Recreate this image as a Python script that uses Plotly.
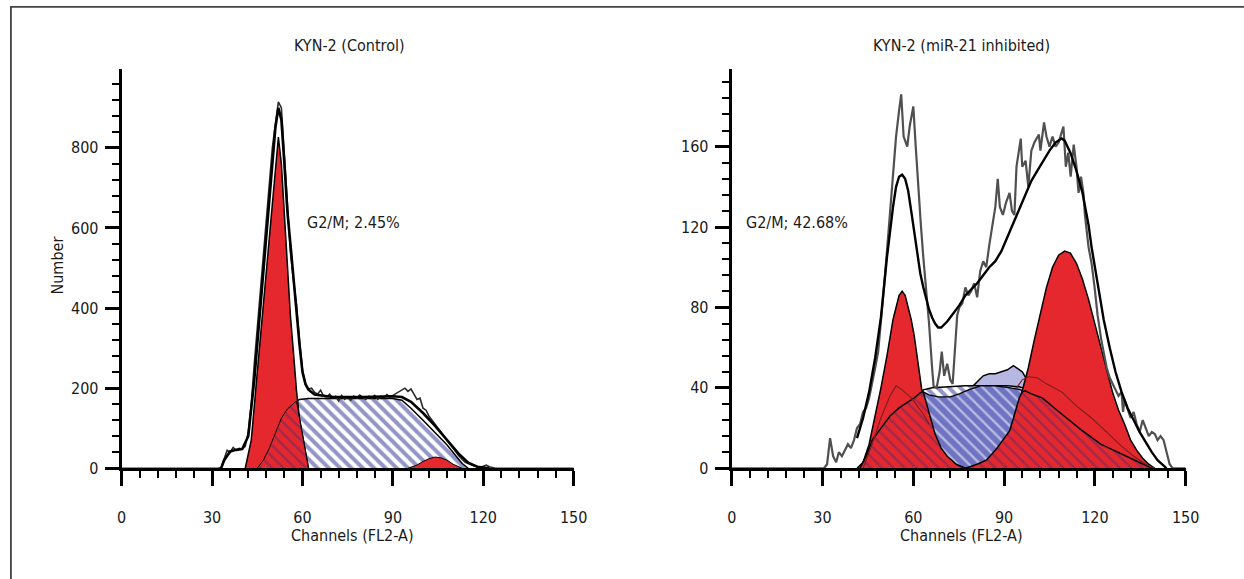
import plotly.graph_objects as go

FONT = "Noto Sans Condensed, Liberation Sans Narrow, DejaVu Sans Condensed, Arial Narrow, sans-serif"

TITLES = ["KYN-2 (Control)", "KYN-2 (miR-21 inhibited)"]
PHASE_LABELS = ["G2/M; 2.45%", "G2/M; 42.68%"]
X_TITLE = "Channels (FL2-A)"
Y_TITLE = "Number"
X_TICKS = [0, 30, 60, 90, 120, 150]
L_Y_TICKS = [0, 200, 400, 600, 800]
R_Y_TICKS = [0, 40, 80, 120, 160]
GATE_MARK_CH = [50, 56]

# ---------------- Left panel: KYN-2 (Control) ----------------
L_RAW_CH = [0, 32, 33, 34, 35, 36, 37, 38, 39, 40, 41, 42, 43, 44, 45, 46, 47, 48, 49, 50,
            51, 52, 53, 54, 55, 56, 57, 58, 59, 60, 61, 62, 63, 64, 65, 66, 67, 68, 69, 70,
            71, 72, 73, 74, 75, 76, 77, 78, 79, 80, 81, 82, 83, 84, 85, 86, 87, 88, 89, 90,
            91, 92, 93, 94, 95, 96, 97, 98, 99, 100, 101, 102, 103, 104, 105, 106, 107, 108,
            109, 110, 111, 112, 113, 114, 115, 116, 117, 118, 119, 120, 121, 122, 123, 124, 150]
L_RAW_VAL = [0, 0, 2, 25, 45, 40, 52, 45, 50, 48, 55, 90, 160, 260, 350, 440, 520, 600, 700, 800,
             860, 915, 900, 780, 640, 540, 470, 410, 320, 245, 210, 198, 200, 190, 185, 195, 180, 178, 185, 176,
             180, 168, 182, 172, 178, 170, 180, 175, 183, 177, 172, 180, 176, 182, 172, 180, 176, 184, 178, 182,
             186, 190, 195, 200, 192, 198, 185, 172, 175, 150, 145, 130, 120, 110, 100, 90, 78, 70,
             58, 48, 40, 30, 22, 15, 12, 8, 6, 4, 3, 5, 8, 4, 2, 0, 0]

L_FIT_CH = [33, 34, 36, 38, 40, 42, 44, 46, 48, 50, 51, 52, 53, 54, 55, 56, 57, 58, 59, 60,
            61, 62, 63, 64, 70, 80, 90, 93, 96, 100, 104, 108, 112, 115, 118, 122]
L_FIT_VAL = [0, 20, 42, 46, 48, 80, 220, 400, 570, 760, 850, 900, 870, 760, 640, 560, 470, 400, 310, 240,
             210, 196, 189, 184, 178, 178, 180, 178, 166, 138, 106, 70, 35, 14, 4, 0]

L_G1_CH = [41, 43, 45, 47, 49, 51, 52, 53, 54, 55, 56, 57, 58, 59, 60, 61, 62]
L_G1_VAL = [0, 70, 240, 410, 580, 750, 827, 760, 640, 500, 380, 290, 195, 125, 82, 40, 0]

L_S_CH = [45, 47, 49, 51, 53, 55, 57, 59, 62, 70, 80, 90, 93, 96, 100, 104, 108, 111, 113, 115]
L_S_VAL = [0, 20, 50, 90, 125, 148, 162, 172, 174, 174, 174, 174, 170, 150, 120, 90, 58, 30, 12, 0]

L_OVL_CH = [45, 47, 49, 51, 53, 55, 57, 58, 59, 60, 61, 62]
L_OVL_VAL = [0, 20, 50, 90, 125, 148, 162, 168, 125, 82, 40, 0]

L_G2_CH = [95, 98, 100, 102, 104, 106, 108, 110, 113]
L_G2_VAL = [0, 8, 17, 24, 28, 26, 20, 10, 0]

# ---------------- Right panel: KYN-2 (miR-21 inhibited) ----------------
R_RAW_CH = [0, 30.5, 31.5, 32.5, 33.5, 34.5, 35.4, 36.4, 37.4, 38.4, 39.4, 40.4, 41.4, 42.4, 43.4,
            44.4, 45.4, 46.4, 47.4, 48.4, 49.3, 50.3, 51.3, 52.3, 53.3, 54.3, 55.3, 56.0, 56.8,
            58.0, 58.8, 60.0, 60.8, 61.8, 62.5, 63.3, 64.2, 65.2, 66.2, 66.7, 67.7, 68.7, 69.4,
            70.2, 71.2, 72.2, 73.0, 73.7, 74.5, 75.2, 76.2, 77.2, 78.2, 79.1, 80.1, 81.1, 82.1,
            83.1, 84.1, 85.1, 86.1, 87.1, 87.9, 88.6, 89.6, 90.6, 91.8, 92.6, 93.4, 94.1, 95.5,
            96.0, 97.1, 98.0, 99.0, 100.0, 101.5, 102.0, 103.2, 104.0, 105.0, 106.0, 107.0, 108.0,
            109.6, 110.4, 111.2, 112.0, 113.0, 113.9, 114.6, 115.4, 116.2, 116.7, 117.9, 118.9,
            119.9, 120.9, 122.1, 122.9, 123.9, 124.9, 126.4, 127.8, 128.8, 129.3, 129.8, 130.8,
            131.8, 132.8, 133.8, 134.8, 135.8, 136.8, 137.8, 138.8, 139.8, 140.7, 141.7, 142.7,
            143.7, 144.7, 145.7, 150]
R_RAW_VAL = [0, 0, 2, 15, 6, 3, 8, 6, 9, 12, 10, 14, 20, 22, 28, 30, 35, 42, 50, 58, 75,
             90, 108, 128, 150, 165, 178, 186, 165, 160, 170, 180, 160, 135, 121, 105, 90, 72,
             50, 41, 40, 48, 58, 46, 52, 44, 42, 60, 76, 80, 82, 90, 86, 88, 92, 85,
             98, 103, 100, 111, 120, 130, 144, 130, 126, 132, 137, 128, 126, 150, 164, 150, 153,
             140, 158, 162, 166, 158, 172, 165, 160, 165, 160, 162, 170, 150, 157, 145,
             161, 150, 137, 145, 137, 126, 110, 102, 90, 76, 64, 58, 50, 45, 40,
             36, 38, 28, 34, 30, 25, 28, 22, 18, 24, 20, 16, 18, 17, 14, 16, 14,
             8, 2, 0, 0]

R_FIT_CH = [41.4, 43.4, 45.4, 47.4, 49.3, 51.3, 53.3, 54.3, 55.3, 56.3, 57.3, 58.3, 59.3, 60.3,
            61.3, 62.3, 63.3, 64.2, 65.2, 66.2, 67.2, 68.2, 69.2, 71.2, 73.2, 75.2, 77.2, 79.1,
            81.1, 83.1, 85.1, 87.1, 89.1, 91.1, 93.1, 95.0, 97.0, 99.0, 101.0, 103.0, 105.0,
            107.0, 109.0, 110.0, 111.9, 113.9, 115.9, 117.9, 118.9, 120.9, 122.9, 124.9, 126.8,
            128.8, 130.8, 132.8, 134.8, 136.8, 138.8, 140.7, 143.7]
R_FIT_VAL = [15, 25, 38, 55, 75, 105, 130, 140, 145, 146, 144, 138, 128, 117, 106, 97, 90, 84, 79, 75, 72,
             70, 70, 73, 77, 81, 86, 89, 92, 96, 100, 103, 108, 115, 122, 129, 136, 143, 148, 153, 158,
             162, 164, 163, 157, 148, 137, 121, 110, 92, 74, 60, 48, 38, 30, 24, 18, 13,
             8, 4, 0]

R_G1_CH = [41.4, 43.4, 45.4, 47.4, 49.3, 51.3, 53.3, 55.3, 56.3, 57.3, 59.3, 60.3, 61.3, 62.3,
           63.3, 64.2, 65.2, 66.2, 67.2, 69.2]
R_G1_VAL = [0, 3, 12, 26, 40, 56, 74, 86, 88, 86, 74, 66, 55, 43, 34, 24, 15, 8, 3, 0]

R_G2_CH = [85.1, 89.1, 93.1, 96.0, 98.0, 100.0, 102.0, 104.0, 106.0, 108.0, 110.0, 111.9, 113.9,
           115.9, 117.9, 119.9, 121.9, 123.9, 125.8, 127.8, 129.8, 131.8, 133.8, 135.8, 137.8, 139.8]
R_G2_VAL = [0, 8, 22, 38, 50, 64, 77, 90, 100, 106, 108, 107, 102, 94, 84, 72, 60, 49,
            38, 29, 22, 14, 9, 5, 2, 0]

R_S_CH = [42.4, 44.4, 46.4, 49.3, 52.3, 55.3, 58.3, 60.3, 62.3, 63.3, 66.2, 71.2, 77.2, 84.1, 91.1,
          95.0, 97.0, 99.0, 102.6, 109.0, 115.6, 121.9, 128.8, 134.8, 138.8]
R_S_VAL = [0, 6, 14, 20, 26, 30, 33, 35, 37.5, 39, 40, 40.5, 41, 41, 41, 40.5, 39.5, 37, 35, 27,
           19, 12, 7, 3, 0]

R_LAV_CH = [79.1, 81.1, 83.1, 85.1, 87.1, 89.1, 91.1, 93.1, 94.1, 96.0, 98.0, 99.0]
R_LAV_VAL = [40, 43, 46, 47, 47, 48, 49, 51, 50, 48, 43, 40]

R_BOWL_CH = [63.3, 65.2, 68.2, 72.2, 75.2, 78.2, 82.1, 87.1, 92.1, 96.0, 97.0]
R_BOWL_VAL = [38, 36.5, 35.5, 35.5, 37, 39, 41, 41, 40, 38.5, 38.5]

R_HUMP_A_CH = [42.4, 44.4, 46.4, 49.3, 52.3, 55.3, 58.3, 60.3, 62.3, 63.3, 64.2, 65.7, 67.2, 69.2,
               71.2, 74.2, 77.2]
R_HUMP_A_VAL = [0, 6, 14, 20, 26, 30, 33, 35, 37.5, 38, 33, 25, 17, 10, 6, 2, 0]

R_HUMP_B_CH = [77.2, 81.1, 84.1, 87.1, 89.1, 91.8, 93.1, 95.0, 96.0, 97.0, 99.0, 102.6, 109.0,
               115.6, 121.9, 128.8, 134.8, 138.8]
R_HUMP_B_VAL = [0, 2, 4, 9, 13, 18.6, 25, 35, 38, 38.5, 37, 35, 27, 19, 12, 7, 3, 0]

R_THIN_CH = [43.4, 46.4, 49.3, 52.3, 54.3, 56.3, 59.3, 61.3, 63.3, 65.2, None, 94.1, 96.0, 98.0,
             101.0, 104.0, 109.0, 113.9, 118.9, 123.9, 128.8, 132.8, 136.8, 139.8]
R_THIN_VAL = [0, 12, 25, 36, 41, 39, 35, 31, 27, 22, None, 40, 44, 45.5, 45, 42, 38, 31, 25,
              18, 11, 6, 2, 0]

# ---------------- styles ----------------
RED = "#e4282d"
BLUE_HATCH = dict(shape="\\", fgcolor="#262c8c", bgcolor="white", size=8, solidity=0.5)
RED_HATCH = dict(shape="\\", fgcolor="#5a2a6e", bgcolor=RED, size=8, solidity=0.3)
BOWL_HATCH = dict(shape="\\", fgcolor="white", bgcolor="#6f74c2", size=8, solidity=0.3)

W, H = 1244, 579


def px(xp):
    return xp / W


def py(yp):
    return 1 - yp / H


fig = go.Figure()


def area(x, y, xa, ya, color=None, pattern=None, lw=1.5, lc="black"):
    kw = dict(x=x, y=y, xaxis=xa, yaxis=ya, mode="lines", fill="tozeroy",
              line=dict(color=lc, width=lw), hoverinfo="skip", showlegend=False)
    if pattern is not None:
        kw["fillpattern"] = pattern
        kw["fillcolor"] = pattern["bgcolor"]
    else:
        kw["fillcolor"] = color
    fig.add_trace(go.Scatter(**kw))


def line(x, y, xa, ya, color, width):
    fig.add_trace(go.Scatter(x=x, y=y, xaxis=xa, yaxis=ya, mode="lines",
                             line=dict(color=color, width=width), hoverinfo="skip",
                             showlegend=False, connectgaps=False))


# Left panel layers
area(L_S_CH, L_S_VAL, "x", "y", pattern=BLUE_HATCH)
area(L_G1_CH, L_G1_VAL, "x", "y", color=RED)
area(L_G2_CH, L_G2_VAL, "x", "y", color=RED, lw=1)
area(L_OVL_CH, L_OVL_VAL, "x", "y", pattern=RED_HATCH, lw=1)
line(L_RAW_CH, L_RAW_VAL, "x", "y", "#2b2b2b", 1.6)
line(L_FIT_CH, L_FIT_VAL, "x", "y", "black", 2.6)

# Right panel layers
area(R_LAV_CH, R_LAV_VAL, "x2", "y2", color="#b7b7e3", lw=1.5)
area(R_S_CH, R_S_VAL, "x2", "y2", pattern=BLUE_HATCH)
area(R_BOWL_CH, R_BOWL_VAL, "x2", "y2", pattern=BOWL_HATCH, lw=1.2)
area(R_G1_CH, R_G1_VAL, "x2", "y2", color=RED)
area(R_G2_CH, R_G2_VAL, "x2", "y2", color=RED)
area(R_HUMP_A_CH, R_HUMP_A_VAL, "x2", "y2", pattern=RED_HATCH)
area(R_HUMP_B_CH, R_HUMP_B_VAL, "x2", "y2", pattern=RED_HATCH)
line(R_THIN_CH, R_THIN_VAL, "x2", "y2", "#7a1d22", 1.1)
line(R_RAW_CH, R_RAW_VAL, "x2", "y2", "#505050", 2.2)
line(R_FIT_CH, R_FIT_VAL, "x2", "y2", "black", 2.4)

# gate markers (triangles under the axis)
fig.add_trace(go.Scatter(x=[GATE_MARK_CH[0]], y=[-22], xaxis="x", yaxis="y", mode="markers",
                         marker=dict(symbol="triangle-up", size=11, color="black"),
                         cliponaxis=False, hoverinfo="skip", showlegend=False))
fig.add_trace(go.Scatter(x=[GATE_MARK_CH[1]], y=[-4], xaxis="x2", yaxis="y2", mode="markers",
                         marker=dict(symbol="triangle-up", size=11, color="black"),
                         cliponaxis=False, hoverinfo="skip", showlegend=False))

TICKFONT = dict(family=FONT, size=16, color="#1a1a1a")
Y_DOM = [py(476.5), py(69.8)]


def xaxis(dom, anchor):
    return dict(domain=dom, anchor=anchor, range=[0, 150], showline=True, linewidth=3,
                linecolor="black", ticks="outside", tickvals=X_TICKS, ticklen=15, tickwidth=2.5,
                tickcolor="black", minor=dict(dtick=6, tick0=0, ticklen=7, tickwidth=2,
                                              tickcolor="black", ticks="outside"),
                showgrid=False, zeroline=False, tickfont=TICKFONT, ticklabelstandoff=18,
                fixedrange=True)


def yaxis(rng, vals, mdt, anchor):
    return dict(domain=Y_DOM, anchor=anchor, range=rng, showline=True, linewidth=3,
                linecolor="black", ticks="outside", tickvals=vals, ticklen=14, tickwidth=2.5,
                tickcolor="black", minor=dict(dtick=mdt, tick0=0, ticklen=7, tickwidth=2,
                                              tickcolor="black", ticks="outside"),
                showgrid=False, zeroline=False, tickfont=TICKFONT, ticklabelstandoff=3,
                fixedrange=True)


annots = []
TFONT = dict(family=FONT, size=16, color="#1a1a1a")
for xc, t in zip([349.5, 971], TITLES):
    annots.append(dict(x=px(xc), y=py(46), xref="paper", yref="paper", text=t,
                       showarrow=False, font=TFONT, xanchor="center", yanchor="middle"))
for xc in [352.7, 971.5]:
    annots.append(dict(x=px(xc), y=py(545), xref="paper", yref="paper", text=X_TITLE,
                       showarrow=False, font=TFONT, xanchor="center", yanchor="middle"))
annots.append(dict(x=px(53), y=py(270), xref="paper", yref="paper", text=Y_TITLE, textangle=-90,
                   showarrow=False, font=TFONT, xanchor="center", yanchor="middle"))
for xc, t in zip([353.5, 804], PHASE_LABELS):
    annots.append(dict(x=px(xc), y=py(226), xref="paper", yref="paper", text=t,
                       showarrow=False, font=TFONT, xanchor="center", yanchor="middle"))

fig.update_layout(
    width=W, height=H, margin=dict(l=0, r=0, t=0, b=0), autosize=False,
    paper_bgcolor="white", plot_bgcolor="white", showlegend=False,
    xaxis=xaxis([px(118.5), px(577.5)], "y"),
    yaxis=yaxis([0, 998], L_Y_TICKS, 40, "x"),
    xaxis2=xaxis([px(738), px(1199)], "y2"),
    yaxis2=yaxis([0, 198.8], R_Y_TICKS, 8, "x2"),
    annotations=annots,
    shapes=[dict(type="rect", xref="paper", yref="paper", x0=px(6), x1=1.02, y0=-0.05, y1=py(7),
                 line=dict(color="#444444", width=1.8), fillcolor="rgba(0,0,0,0)", layer="below")],
)

POST = ("document.documentElement.style.margin='0px';document.body.style.margin='0px';"
        "document.documentElement.style.overflow='hidden';document.body.style.overflow='hidden';")

fig.write_html("out.html", config={"displayModeBar": False}, post_script=POST)
